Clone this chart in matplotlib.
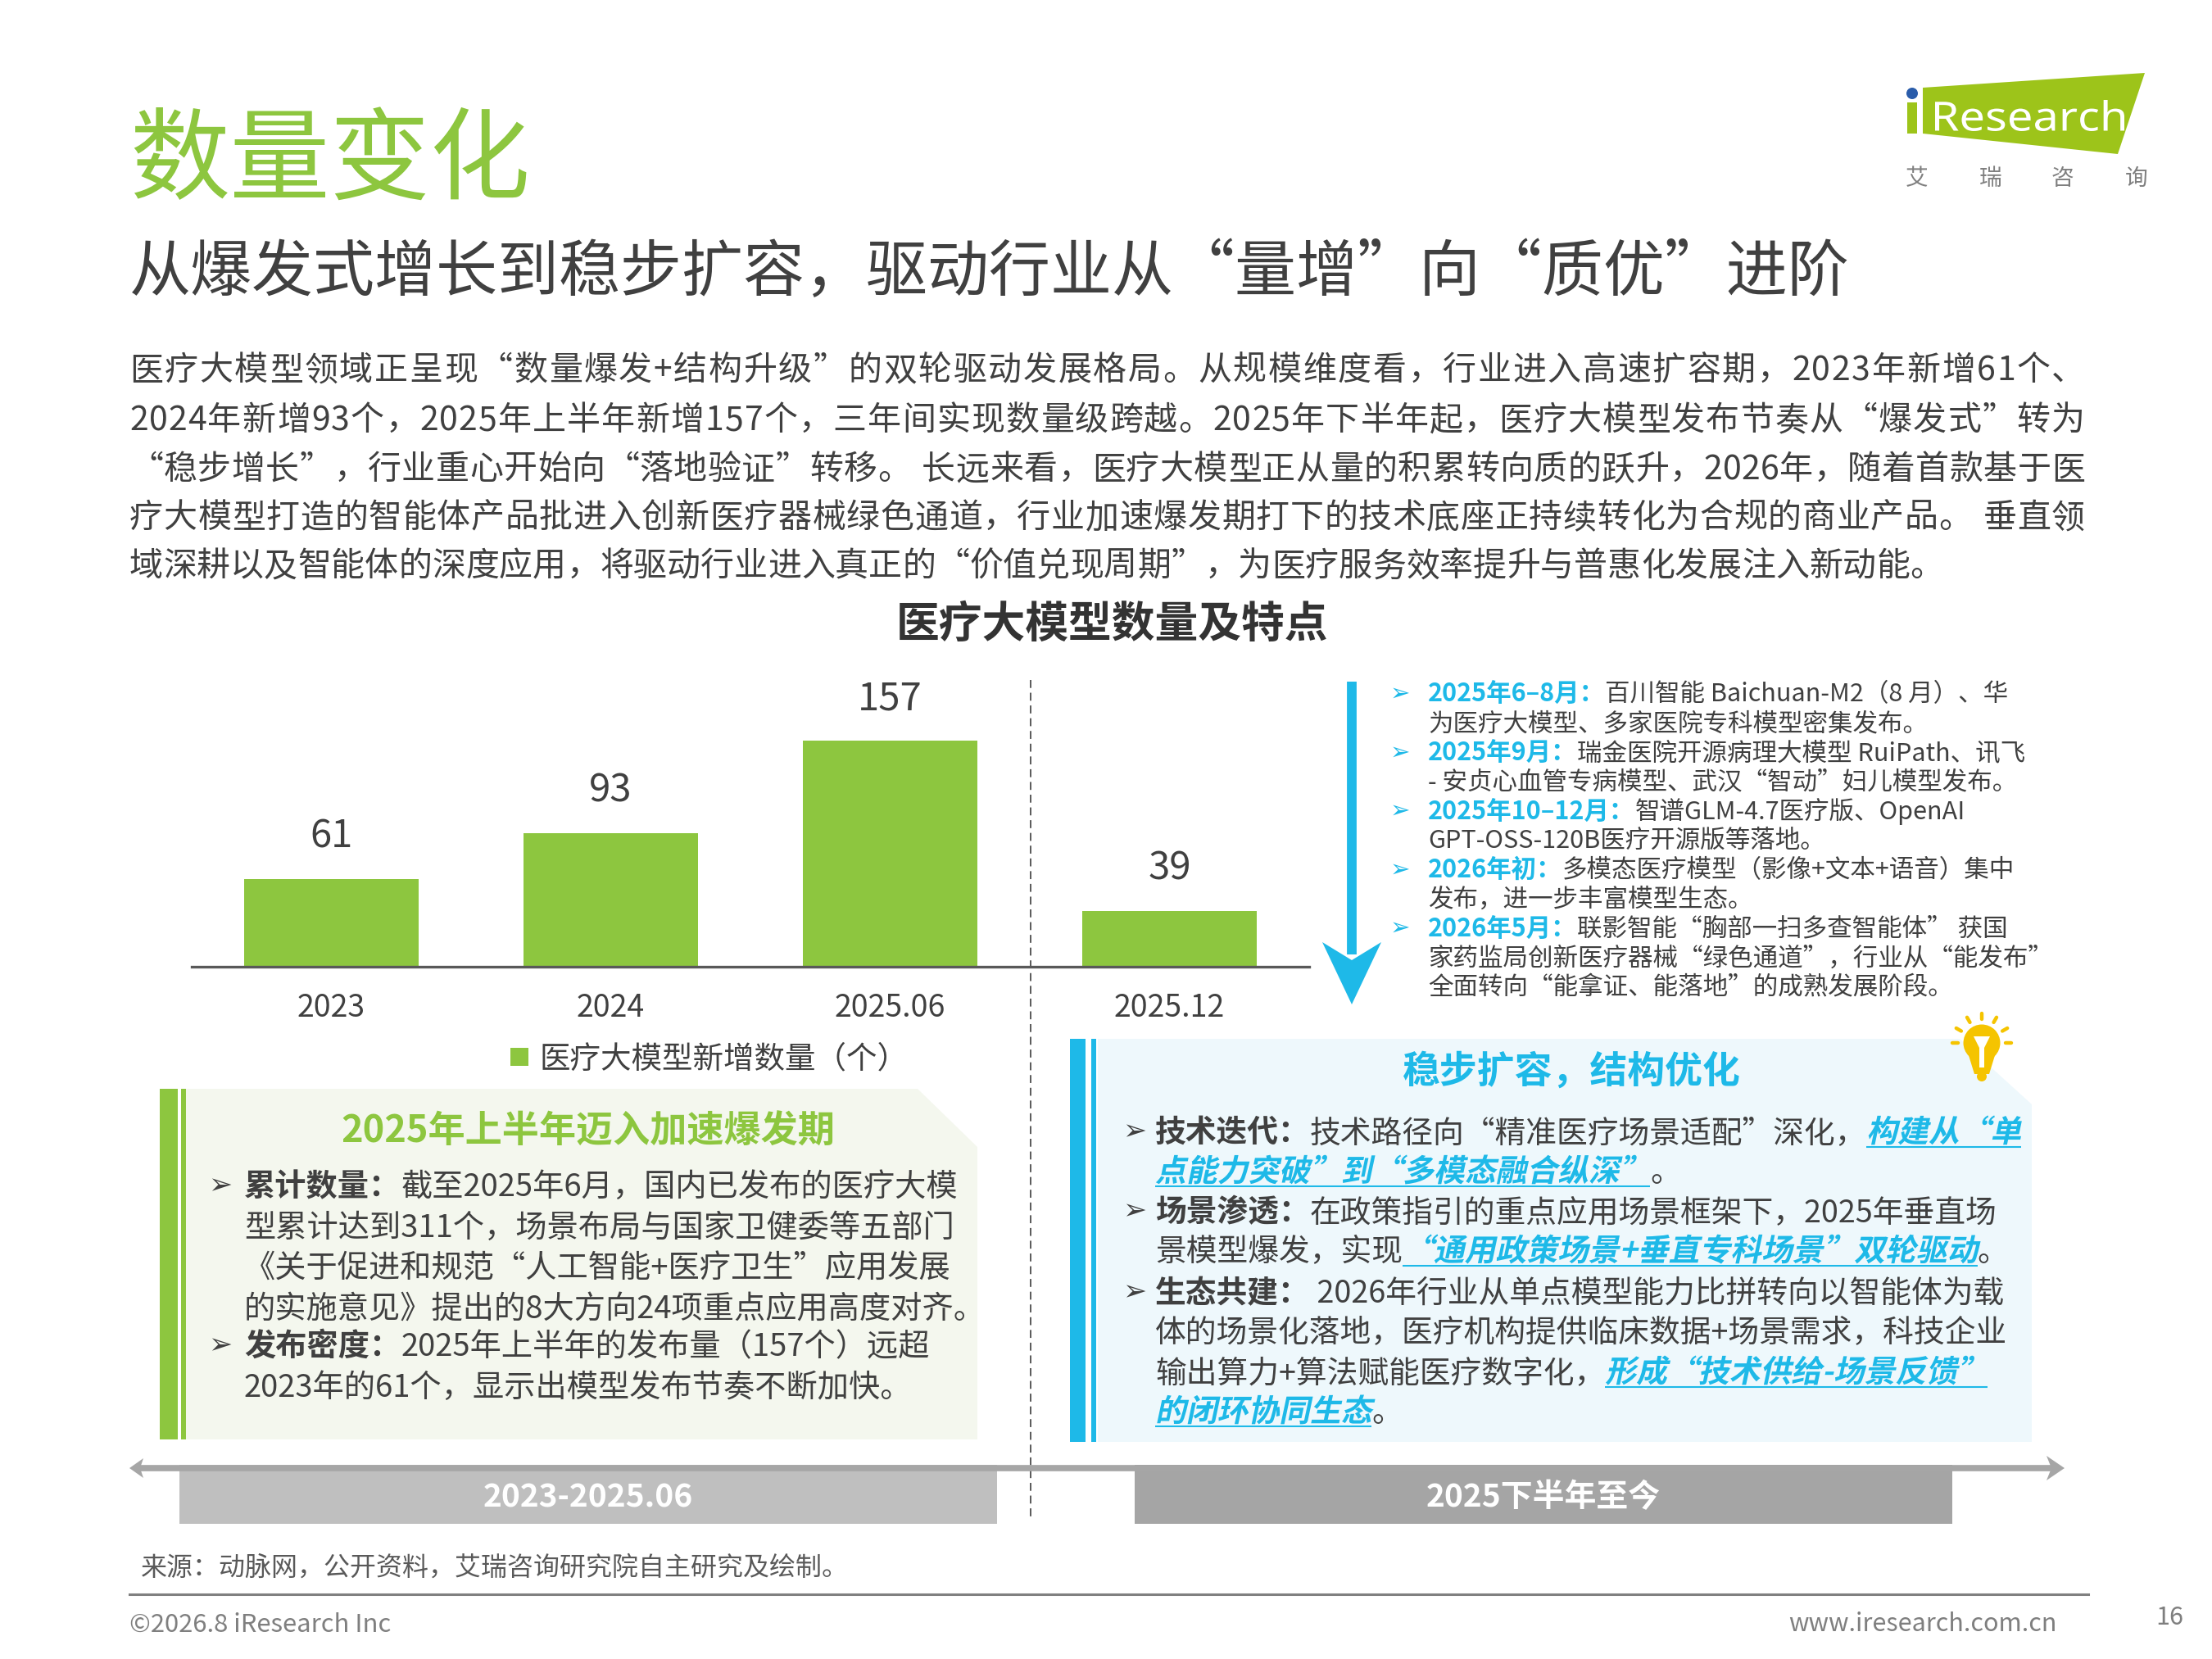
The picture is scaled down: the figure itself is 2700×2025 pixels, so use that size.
import matplotlib
matplotlib.use('Agg')
import matplotlib.pyplot as plt
from matplotlib.patches import Polygon, Rectangle, Circle, PathPatch
from matplotlib.textpath import TextPath
from matplotlib.font_manager import FontProperties
from matplotlib.transforms import Affine2D
import numpy as np

plt.rcParams['font.family'] = ['Noto Sans CJK SC', 'DejaVu Sans']

# ---------------- data ----------------
categories = ['2023', '2024', '2025.06', '2025.12']
new_models = [61, 93, 157, 39]
series_name = '医疗大模型新增数量（个）'

page_title = '数量变化'
subtitle = '从爆发式增长到稳步扩容，驱动行业从“量增”向“质优”进阶'
body_lines = [
    '医疗大模型领域正呈现“数量爆发+结构升级”的双轮驱动发展格局。从规模维度看，行业进入高速扩容期，2023年新增61个、',
    '2024年新增93个，2025年上半年新增157个，三年间实现数量级跨越。2025年下半年起，医疗大模型发布节奏从“爆发式”转为',
    '“稳步增长”，行业重心开始向“落地验证”转移。 长远来看，医疗大模型正从量的积累转向质的跃升，2026年，随着首款基于医',
    '疗大模型打造的智能体产品批进入创新医疗器械绿色通道，行业加速爆发期打下的技术底座正持续转化为合规的商业产品。 垂直领',
    '域深耕以及智能体的深度应用，将驱动行业进入真正的“价值兑现周期”，为医疗服务效率提升与普惠化发展注入新动能。',
]
chart_title = '医疗大模型数量及特点'

timeline_items = [
    ('2025年6–8月：', ['百川智能 Baichuan-M2（8 月）、华', '为医疗大模型、多家医院专科模型密集发布。']),
    ('2025年9月：', ['瑞金医院开源病理大模型 RuiPath、讯飞', '- 安贞心血管专病模型、武汉“智动”妇儿模型发布。']),
    ('2025年10–12月：', ['智谱GLM-4.7医疗版、OpenAI', 'GPT-OSS-120B医疗开源版等落地。']),
    ('2026年初：', ['多模态医疗模型（影像+文本+语音）集中', '发布，进一步丰富模型生态。']),
    ('2026年5月：', ['联影智能“胸部一扫多查智能体” 获国', '家药监局创新医疗器械“绿色通道”，行业从“能发布”',
                   '全面转向“能拿证、能落地”的成熟发展阶段。']),
]

left_title = '2025年上半年迈入加速爆发期'
left_lines = [
    [('累计数量：', 'b'), ('截至2025年6月，国内已发布的医疗大模', '')],
    [('型累计达到311个，场景布局与国家卫健委等五部门', '')],
    [('《关于促进和规范“人工智能+医疗卫生”应用发展', '')],
    [('的实施意见》提出的8大方向24项重点应用高度对齐。', '')],
    [('发布密度：', 'b'), ('2025年上半年的发布量（157个）远超', '')],
    [('2023年的61个，显示出模型发布节奏不断加快。', '')],
]
left_bullets = [0, 4]

right_title = '稳步扩容，结构优化'
right_lines = [
    [('技术迭代：', 'b'), ('技术路径向“精准医疗场景适配”深化，', ''), ('构建从“单', 'hl')],
    [('点能力突破”到“多模态融合纵深”', 'hl'), ('。', '')],
    [('场景渗透：', 'b'), ('在政策指引的重点应用场景框架下，2025年垂直场', '')],
    [('景模型爆发，实现', ''), ('“通用政策场景+垂直专科场景”双轮驱动', 'hl'), ('。', '')],
    [('生态共建：', 'b'), (' 2026年行业从单点模型能力比拼转向以智能体为载', '')],
    [('体的场景化落地，医疗机构提供临床数据+场景需求，科技企业', '')],
    [('输出算力+算法赋能医疗数字化，', ''), ('形成“技术供给-场景反馈”', 'hl')],
    [('的闭环协同生态', 'hl'), ('。', '')],
]
right_bullets = [0, 2, 4]

phase_labels = ['2023-2025.06', '2025下半年至今']
source_text = '来源：动脉网，公开资料，艾瑞咨询研究院自主研究及绘制。'
footer_left = '©2026.8 iResearch Inc'
footer_right = 'www.iresearch.com.cn'
page_no = '16'

# ---------------- style ----------------
GREEN = '#8DC63F'
BLUE = '#1EB9E8'
DARK = '#404040'
MID = '#595959'
LEFT_BG = '#F4F7EE'
RIGHT_BG = '#EEF8FC'

W, H = 2700, 2025
DPI = 100
fig = plt.figure(figsize=(W / DPI, H / DPI), dpi=DPI)
fig.patch.set_facecolor('white')
L = fig.add_axes([0, 0, 1, 1])
L.set_xlim(0, W)
L.set_ylim(H, 0)
L.axis('off')
renderer = fig.canvas.get_renderer()


def em(pt):
    return pt / 0.72


_cache = {}


def adv(s, size, weight='normal', family=None):
    key = (s, size, weight, family)
    if key in _cache:
        return _cache[key]
    kw = {'family': family} if family else {}
    t1 = L.text(0, 0, '|' + s + '|', fontsize=size, fontweight=weight, **kw)
    t2 = L.text(0, 0, '||', fontsize=size, fontweight=weight, **kw)
    w = t1.get_window_extent(renderer).width - t2.get_window_extent(renderer).width
    t1.remove()
    t2.remove()
    _cache[key] = w
    return w


def T(x, yc, s, size, color=DARK, weight='normal', ha='left', family=None, k=0.37):
    e = em(size)
    kw = {'family': family} if family else {}
    return L.text(x, yc + k * e, s, fontsize=size, color=color, fontweight=weight,
                  ha=ha, va='baseline', **kw)


def justified(x, yc, s, size, width, color=DARK):
    e = em(size)
    yb = yc + 0.37 * e
    advs = [adv(c, size) if c != ' ' else 0.3 * e for c in s]
    extra = (width - sum(advs)) / max(len(s) - 1, 1) if width else 0.0
    cx = x
    for c, a in zip(s, advs):
        if c != ' ':
            L.text(cx, yb, c, fontsize=size, color=color, va='baseline', ha='left')
        cx += a + extra


def runs(x, yc, parts, size):
    e = em(size)
    yb = yc + 0.37 * e
    for s, st in parts:
        if st == 'b':
            color, wt = DARK, 'bold'
        elif st == 'hl':
            color, wt = BLUE, 'bold'
        else:
            color, wt = DARK, 'normal'
        a = adv(s, size, wt)
        if st == 'hl':
            fp = FontProperties(family='Noto Sans CJK SC', weight=wt)
            tp = TextPath((0, 0), s, size=e, prop=fp)
            tr = Affine2D().skew_deg(12, 0).scale(1, -1).translate(x, yb)
            L.add_patch(PathPatch(tr.transform_path(tp), fc=color, ec='none', lw=0))
            L.plot([x, x + a], [yb + 0.15 * e] * 2, color=color, lw=1.5, solid_capstyle='butt')
        else:
            L.text(x, yb, s, fontsize=size, color=color, fontweight=wt, va='baseline', ha='left')
        x += a
    return x


# ---------------- header ----------------
T(158, 190, page_title, 88, color=GREEN)
T(158, 327, subtitle, 54, color=DARK)

# logo
LOGO_G = '#9DC41A'
L.add_patch(Polygon([(2347, 107), (2618, 89), (2585, 188), (2347, 163)], closed=True,
                    fc=LOGO_G, ec='none'))
L.add_patch(Rectangle((2328, 125), 12, 38, fc=LOGO_G, ec='none'))
L.add_patch(Circle((2334, 114), 7, fc='#2A5CAA', ec='none'))
_tp = TextPath((0, 0), 'Research', size=50, prop=FontProperties(family='Noto Sans'))
_bb = _tp.get_extents()
_sx = (2593 - 2362) / _bb.width
_sy = (160 - 122) / _bb.height
_tr = Affine2D().translate(-_bb.x0, -_bb.y0).scale(_sx, -_sy).translate(2362, 160)
L.add_patch(PathPatch(_tr.transform_path(_tp), fc='white', ec='none', lw=0))
for cx, ch in zip([2340, 2430, 2517, 2608], '艾瑞咨询'):
    T(cx, 216, ch, 20, color='#7F7F7F', ha='center')

# body paragraph
body_y = [449, 510, 570, 629, 688]
for i, (yy, line) in enumerate(zip(body_y, body_lines)):
    justified(158, yy, line, 29.5, 2387 if i < 4 else None)

T(1358, 758, chart_title, 38, color='#333333', weight='bold', ha='center')

# ---------------- bar chart ----------------
base_y, top_y = 1180, 830
ax = fig.add_axes([234 / W, 1 - base_y / H, 1364 / W, (base_y - top_y) / H])
ax.patch.set_alpha(0)
xpos = np.arange(len(categories))
ax.bar(xpos, new_models, width=0.626, color=GREEN, zorder=2)
ax.set_xlim(-0.5, len(categories) - 0.5)
ax.set_ylim(0, (base_y - top_y) / 1.755)
for sp in ['left', 'right', 'top']:
    ax.spines[sp].set_visible(False)
ax.spines['bottom'].set_color(MID)
ax.spines['bottom'].set_linewidth(2.4)
ax.spines['bottom'].set_zorder(3)
ax.set_yticks([])
ax.set_xticks(xpos, categories)
ax.tick_params(axis='x', length=0, pad=22, labelsize=27, labelcolor=DARK)
for i, v in enumerate(new_models):
    ax.annotate(str(v), xy=(xpos[i], v), xytext=(0, 37), textcoords='offset points',
                ha='center', va='center', fontsize=34, color=DARK)

# legend
L.add_patch(Rectangle((623, 1279), 22, 22, fc=GREEN, ec='none'))
T(658, 1290, series_name, 27, color=DARK)

# dashed divider
L.plot([1258, 1258], [830, 1852], color=MID, lw=1.4, dashes=(5, 3))

# ---------------- timeline (top right) ----------------
L.plot([1650, 1650], [832, 1165], color=BLUE, lw=8.5, solid_capstyle='butt')
L.add_patch(Polygon([(1614, 1150), (1650, 1172), (1686, 1150), (1650, 1226)], closed=True,
                    fc=BLUE, ec='none'))
ty = [845 + 35.8 * j for j in range(11)]
k = 0
for label, lines in timeline_items:
    T(1697, ty[k], '➢', 21, color=BLUE, ha='left', family='DejaVu Sans', k=0.33)
    T(1743, ty[k], label, 22, color=BLUE, weight='bold')
    xl = 1743 + adv(label, 22, 'bold')
    T(xl, ty[k], lines[0], 22, color=DARK)
    k += 1
    for ln in lines[1:]:
        T(1743, ty[k], ln, 22, color=DARK)
        k += 1

# ---------------- left box ----------------
lt, lb = 1329, 1757
L.add_patch(Polygon([(226, lt), (1120, lt), (1193, 1400), (1193, lb), (226, lb)], closed=True,
                    fc=LEFT_BG, ec='none'))
L.add_patch(Rectangle((195, lt), 22, lb - lt, fc=GREEN, ec='none'))
L.add_patch(Rectangle((221, lt), 6, lb - lt, fc=GREEN, ec='none'))
T(718, 1378, left_title, 32.5, color=GREEN, weight='bold', ha='center')
ly = [1446, 1496, 1545, 1595, 1641, 1691]
for i, (yy, parts) in enumerate(zip(ly, left_lines)):
    if i in left_bullets:
        T(254, yy, '➢', 25, color=DARK, family='DejaVu Sans', k=0.33)
    runs(298, yy, parts, 27.5)

# ---------------- right box ----------------
rt, rb = 1268, 1760
L.add_patch(Polygon([(1340, rt), (2392, rt), (2480, 1348), (2480, rb), (1340, rb)], closed=True,
                    fc=RIGHT_BG, ec='none'))
L.add_patch(Rectangle((1306, rt), 19, rb - rt, fc=BLUE, ec='none'))
L.add_patch(Rectangle((1332, rt), 6, rb - rt, fc=BLUE, ec='none'))
T(1918, 1305, right_title, 33, color=BLUE, weight='bold', ha='center')
ry = [1380, 1428, 1477, 1525, 1576, 1624, 1673, 1721]
for i, (yy, parts) in enumerate(zip(ry, right_lines)):
    if i in right_bullets:
        T(1370, yy, '➢', 25, color=DARK, family='DejaVu Sans', k=0.33)
    runs(1410, yy, parts, 27.2)

# light bulb
bx, by = 2419, 1273
YEL = '#F5C400'
for ang in [180, 150, 120, 90, 60, 30, 0]:
    a = np.deg2rad(ang)
    L.plot([bx + 29 * np.cos(a), bx + 36 * np.cos(a)], [by - 29 * np.sin(a), by - 36 * np.sin(a)],
           color=YEL, lw=3.2, solid_capstyle='round')
L.add_patch(Circle((bx, by), 22.5, fc=YEL, ec='none'))
L.add_patch(Polygon([(bx - 17, by + 12), (bx + 17, by + 12), (bx + 9, by + 38), (bx - 9, by + 38)],
                    closed=True, fc=YEL, ec='none'))
L.add_patch(Circle((bx, by + 41), 6, fc=YEL, ec='none'))
L.add_patch(Polygon([(bx - 10, by - 8), (bx + 10, by - 8), (bx + 3, by + 6), (bx + 3, by + 30),
                     (bx - 3, by + 30), (bx - 3, by + 6)], closed=True, fc='white', ec='none'))

# ---------------- phase timeline ----------------
ay = 1792
L.plot([170, 2505], [ay, ay], color='#A6A6A6', lw=5.5, solid_capstyle='butt')
L.add_patch(Polygon([(2520, ay), (2498, ay - 15), (2504, ay), (2498, ay + 15)], closed=True,
                    fc='#A6A6A6', ec='none'))
L.add_patch(Polygon([(158, ay), (175, ay - 12), (171, ay), (175, ay + 12)], closed=True,
                    fc='#A6A6A6', ec='none'))
L.add_patch(Rectangle((219, 1788), 998, 72, fc='#BFBFBF', ec='none'))
L.add_patch(Rectangle((1385, 1788), 998, 72, fc='#A5A5A5', ec='none'))
T(718, 1825, phase_labels[0], 28, color='white', weight='bold', ha='center')
T(1884, 1825, phase_labels[1], 28, color='white', weight='bold', ha='center')

# ---------------- footer ----------------
T(172, 1911, source_text, 23, color=MID)
L.plot([158, 2549], [1946, 1946], color='#808080', lw=2.2)
T(158, 1980, footer_left, 22.3, color='#7F7F7F')
T(2511, 1980, footer_right, 22, color='#7F7F7F', ha='right')
T(2631, 1972, page_no, 22, color='#7F7F7F')

fig.savefig('out.png', dpi=DPI, facecolor='white')
